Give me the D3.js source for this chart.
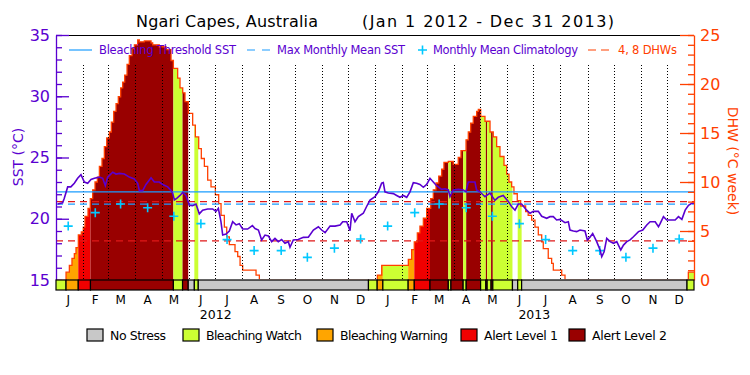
<!DOCTYPE html>
<html>
<head>
<meta charset="utf-8">
<script src="https://cdn.jsdelivr.net/npm/d3@7"></script>
<style>
  body { margin: 0; background: #fff; }
  svg { display: block; font-family: "DejaVu Sans", sans-serif; }
</style>
</head>
<body>
<div id="chart"></div>
<script>
// ---- data ----
const startDay = Date.UTC(2012, 0, 1);
const monthLetters = ["J", "F", "M", "A", "M", "J", "J", "A", "S", "O", "N", "D"];
const years = [2012, 2013];
const mmmSst = 21.2;
const thresholdSst = 22.2;
const dhwRefLevels = [4, 8];
const climatology = [19.4, 20.5, 21.2, 20.9, 20.2, 19.6, 18.3, 17.4, 17.4, 16.85, 17.6, 18.35];

// daily SST (day since Jan 1 2012)
const sstDays = [2, 7.6, 9.5, 13.4, 17, 21, 24.8, 28.6, 32.5, 36.3, 40.1, 44, 49.7, 53.5, 56.5, 59.2, 65, 68.8, 72.6, 78.3,
  84, 89.8, 93.6, 95.5, 99.3, 103.1, 108.9, 112.7, 118.4, 122.2, 128, 131.8, 133.7, 135.6, 138.3, 142.1, 145.2, 149, 152.8, 156.6,
  160.4, 164.2, 168, 173.8, 179.5, 183.3, 186, 189, 191, 194.8, 198.6, 202.4, 206.3, 210, 213.9, 219.6, 225, 228, 231.9, 235.6,
  239.5, 243.3, 247.1, 250.9, 254.7, 258.5, 262.3, 266.2, 268.1, 271.9, 277.6, 283.4, 289.1, 294.9, 300.6, 304.4, 308.3, 314, 319.7, 325.5,
  328.5, 333.1, 336.9, 338.8, 342.6, 346.4, 352.1, 355.9, 359.8, 365.5, 369.3, 373.1, 375, 376.9, 380.8, 386.5, 390.3, 394.1, 397.9, 401.8,
  405.6, 409.4, 413.2, 417, 420.9, 424.7, 428.5, 432.3, 436.1, 441.9, 445.7, 449.5, 451.4, 455.2, 460.9, 466.6, 469.7, 472.4, 480, 481.9,
  485.7, 491.5, 497.2, 502.9, 506.7, 512.4, 518.2, 522, 525.9, 529.7, 533.5, 539.2, 543.1, 546.9, 552.6, 556.5, 562.2, 566, 569.8, 573.6,
  577.5, 583.2, 587, 588.9, 592.8, 596.6, 600.4, 606.1, 608.8, 611.8, 614.9, 619.5, 623.4, 625.3, 628, 631, 634.9, 638.7, 642.5, 647.1,
  650.2, 654, 657.8, 661.6, 667.4, 672.3, 676.9, 680.7, 686.5, 690.3, 692.2, 696, 699.8, 703.7, 709.4, 713.2, 717.1, 720.9, 724.7, 728.5, 731];
const sstValues = [21.2, 21.3, 21.67, 22.6, 22.6, 22.9, 23.3, 23.6, 23.0, 22.9, 23.2, 23.3, 23.4, 23.3, 22.7, 23.4, 23.8, 23.65, 23.7, 23.65,
  23.4, 23.25, 22.9, 22.3, 22.3, 22.8, 23.35, 23.0, 23.0, 22.8, 22.6, 22.3, 22.08, 21.53, 21.67, 21.9, 22.15, 21.9, 21.1, 21.06,
  21.2, 20.4, 20.7, 20.8, 20.8, 20.6, 20.85, 19.76, 18.67, 18.75, 19.0, 19.76, 19.5, 19.6, 19.16, 19.16, 19.45, 19.2, 19.08, 18.27,
  18.67, 18.6, 18.13, 18.4, 18.13, 18.3, 18.0, 18.13, 17.67, 18.27, 18.3, 18.48, 18.5, 19.08, 19.35, 19.08, 18.86, 19.4, 19.4, 19.49,
  19.76, 19.76, 19.02, 20.45, 19.76, 20.17, 20.45, 21.0, 21.53, 21.8, 22.2, 22.9, 22.95, 22.2, 22.1, 22.05, 21.9, 21.75, 21.9, 21.75,
  22.2, 22.95, 22.9, 22.8, 22.57, 22.8, 23.3, 23.0, 22.7, 22.4, 22.45, 22.35, 21.8, 22.35, 22.4, 22.35, 22.2, 23.0, 23.0, 22.35,
  22.2, 21.8, 22.1, 21.5, 21.75, 21.9, 21.4, 21.0, 20.7, 21.2, 21.2, 20.7, 20.45, 20.6, 20.6, 20.2, 20.04, 20.17, 20.17, 19.9,
  19.95, 19.68, 19.76, 19.08, 19.0, 18.95, 19.08, 19.0, 18.27, 18.5, 18.8, 18.13, 17.45, 16.9, 17.3, 18.4, 18.13, 18.0, 18.13, 17.45,
  17.85, 18.13, 18.27, 18.53, 18.95, 19.08, 19.49, 19.76, 19.76, 19.35, 19.6, 20.17, 19.9, 19.9, 19.9, 20.17, 19.95, 20.7, 21.1, 21.26, 21.26];

// degree heating weeks, each value holds until the next day listed
const dhwDays = [0, 11.5, 15.3, 18.3, 21, 22.9, 25.6, 29, 31.3, 33.2, 36.7, 39.3, 42, 44.7, 47.4, 49.7, 52.7, 55.4, 58.1, 61.1,
  63.4, 66.1, 68.8, 71.4, 74.1, 76.4, 78.7, 81.4, 84, 87.1, 89.8, 93.6, 95.5, 101.2, 108.9, 110.8, 118.4, 126, 131.8, 134.5,
  139.4, 142.1, 145.2, 147.8, 151.6, 156.6, 159.7, 163.5, 166.5, 170, 173.8, 177.6, 182.6, 186.4, 189.1, 192.9, 195.6, 198.6, 205.1, 208.2,
  210.9, 213.9, 229.2, 233, 368.2, 373.2, 403.7, 407.5, 410.5, 414, 417, 420.9, 424.7, 429.3, 432.3, 435.4, 438.5, 441.9, 444.5, 449.5,
  455.2, 460.9, 464, 469.8, 472.4, 475.1, 478.1, 482, 483.9, 486.6, 491.5, 497.3, 501, 504.9, 508.7, 513.3, 516.4, 519, 522.1, 524.7,
  528.5, 532.4, 538.1, 541, 545, 548.8, 552.6, 556.5, 558.3, 564, 567.9, 569.8, 579.4, 583.2, 724.5, 731];
const dhwValues = [0, 0.8, 1.5, 2.2, 2.7, 3.3, 4.6, 4.9, 5.4, 6.5, 7.3, 8.3, 9.2, 10.0, 10.5, 11.6, 12.4, 13.6, 14.5, 15.1,
  16.1, 17.2, 18.0, 18.7, 19.6, 20.2, 20.9, 22.0, 22.9, 23.6, 24.0, 24.5, 24.3, 24.4, 24.2, 24.0, 23.8, 23.5, 22.4, 21.6,
  20.6, 19.6, 19.1, 18.2, 17.0, 15.8, 14.6, 13.4, 12.4, 11.6, 10.2, 9.5, 8.7, 7.8, 6.6, 5.4, 4.4, 3.6, 2.9, 2.4,
  1.5, 1.0, 0.5, 0, 0.5, 1.5, 2.1, 3.1, 3.9, 4.8, 5.5, 6.3, 7.3, 8.3, 9.2, 9.9, 10.6, 11.3, 12.0, 12.1,
  11.8, 12.5, 13.2, 14.3, 15.1, 16.0, 16.7, 17.2, 17.4, 16.7, 16.2, 15.1, 14.6, 13.6, 12.6, 11.7, 10.8, 10.0, 9.5, 8.8,
  8.1, 7.55, 6.97, 6.6, 6.1, 5.4, 4.6, 3.9, 3.2, 2.2, 1.7, 1.0, 0.5, 0, 0.8, 0.8];

// stress level periods: edges in days, level per period
const stressEdges = [0, 11.5, 25.5, 39.5, 134.5, 145, 151.5, 158.5, 163, 358, 368, 374.5, 403.5, 410.5, 428.5, 449.5,
  452.5, 466.5, 470, 486.5, 492.5, 494, 498.5, 500.5, 523, 529, 533.5, 723, 731];
const stressLevels = [1, 2, 3, 4, 1, 4, 0, 1, 0, 1, 2, 1, 2, 3, 4, 1, 4, 1, 4, 1, 4, 1, 4, 1, 0, 1, 0, 1];
const stressNames = ["No Stress", "Bleaching Watch", "Bleaching Warning", "Alert Level 1", "Alert Level 2"];
const stressColors = ["#c8c8c8", "#ccff33", "#ffa500", "#f00000", "#990000"];

// ---- layout ----
const width = 750, height = 375;
const pL = 56, pR = 694, pT = 35, pB = 280, barH = 10;
const sstColor = "#5a00d0", dhwColor = "#ff4000", blue = "#1a9cff", cyan = "#00c8ff", dashRed = "#e01818";

const dayDate = d => new Date(startDay + d * 864e5);

const svg = d3.select("#chart").append("svg")
  .attr("width", width).attr("height", height);

const x = d3.scaleUtc().domain([dayDate(0), dayDate(731)]).range([pL, pR]);
const ySst = d3.scaleLinear().domain([15, 35]).range([pB, pT]);
const yDhw = d3.scaleLinear().domain([0, 25]).range([pB, pT]);

const dhw = dhwDays.map((d, i) => ({ date: dayDate(d), v: dhwValues[i] }));
const sst = sstDays.map((d, i) => ({ date: dayDate(d), v: sstValues[i] }));
const periods = stressLevels.map((lv, i) => ({ s: stressEdges[i], e: stressEdges[i + 1], lv }));

const defs = svg.append("defs");
const dhwArea = d3.area()
  .x(d => x(d.date)).y0(pB).y1(d => yDhw(d.v))
  .curve(d3.curveStepAfter);
defs.append("clipPath").attr("id", "dhwClip")
  .append("path").attr("d", dhwArea(dhw));
defs.append("clipPath").attr("id", "plotClip")
  .append("rect").attr("x", pL).attr("y", pT).attr("width", pR - pL).attr("height", pB - pT - 0.8);

// stress fill under the DHW curve
svg.append("g").attr("clip-path", "url(#dhwClip)")
  .selectAll("rect").data(periods.filter(p => p.lv > 0)).enter()
  .append("rect")
  .attr("x", p => x(dayDate(p.s)))
  .attr("width", p => x(dayDate(p.e)) - x(dayDate(p.s)))
  .attr("y", pT).attr("height", pB - pT)
  .attr("fill", p => stressColors[p.lv]);

// DHW outline
svg.append("path")
  .attr("clip-path", "url(#plotClip)")
  .attr("d", d3.line().x(d => x(d.date)).y(d => yDhw(d.v)).curve(d3.curveStepAfter)(dhw))
  .attr("fill", "none").attr("stroke", dhwColor).attr("stroke-width", 1.3);

// dotted month boundaries
const monthStarts = d3.utcMonth.range(dayDate(1), dayDate(731));
svg.append("g").selectAll("line").data(monthStarts).enter()
  .append("line")
  .attr("x1", d => Math.round(x(d)) + 0.5).attr("x2", d => Math.round(x(d)) + 0.5)
  .attr("y1", 65).attr("y2", pB)
  .attr("stroke", "#000").attr("stroke-width", 1).attr("stroke-dasharray", "1,2");

// 4 and 8 DHW reference lines
svg.append("g").selectAll("line").data(dhwRefLevels).enter()
  .append("line")
  .attr("x1", pL).attr("x2", pR)
  .attr("y1", d => yDhw(d)).attr("y2", d => yDhw(d))
  .attr("stroke", dashRed).attr("stroke-width", 1.2).attr("stroke-dasharray", "7,5");

// threshold and MMM
svg.append("line")
  .attr("x1", pL).attr("x2", pR)
  .attr("y1", ySst(thresholdSst)).attr("y2", ySst(thresholdSst))
  .attr("stroke", blue).attr("stroke-width", 1.2);
svg.append("line")
  .attr("x1", pL).attr("x2", pR)
  .attr("y1", ySst(mmmSst)).attr("y2", ySst(mmmSst))
  .attr("stroke", blue).attr("stroke-width", 1.2).attr("stroke-dasharray", "7,5");

// monthly climatology crosses
const climPoints = [];
years.forEach(yr => climatology.forEach((v, m) => climPoints.push({ date: new Date(Date.UTC(yr, m, 15)), v })));
svg.append("g").selectAll("path").data(climPoints).enter()
  .append("path")
  .attr("transform", d => `translate(${x(d.date)},${ySst(d.v)})`)
  .attr("d", "M-4.5,0H4.5M0,-4.5V4.5")
  .attr("stroke", cyan).attr("stroke-width", 1.6);

// SST line
svg.append("path")
  .attr("d", d3.line().x(d => x(d.date)).y(d => ySst(d.v))(sst))
  .attr("fill", "none").attr("stroke", sstColor).attr("stroke-width", 1.6);

// top border
svg.append("line").attr("x1", pL).attr("x2", pR).attr("y1", pT + 0.5).attr("y2", pT + 0.5)
  .attr("stroke", "#000").attr("stroke-width", 1.2);

// left SST axis (ticks point inward)
const axL = svg.append("g").attr("class", "axL").attr("transform", `translate(${pL},0)`)
  .call(d3.axisLeft(ySst).tickValues(d3.range(15, 36, 5)).tickSizeInner(-13).tickSizeOuter(0).tickPadding(6));
svg.append("g").attr("class", "axL").attr("transform", `translate(${pL},0)`)
  .call(d3.axisLeft(ySst).tickValues(d3.range(15, 36, 1)).tickSizeInner(-6).tickSizeOuter(0).tickFormat(""))
  .call(g => g.select(".domain").remove());
// right DHW axis
const axR = svg.append("g").attr("class", "axR").attr("transform", `translate(${pR},0)`)
  .call(d3.axisRight(yDhw).tickValues(d3.range(0, 26, 5)).tickSizeInner(-14).tickSizeOuter(0).tickPadding(6));
svg.append("g").attr("class", "axR").attr("transform", `translate(${pR},0)`)
  .call(d3.axisRight(yDhw).tickValues(d3.range(0, 26, 1)).tickSizeInner(-6).tickSizeOuter(0).tickFormat(""))
  .call(g => g.select(".domain").remove());
svg.selectAll(".axL").selectAll("line, path").attr("stroke", sstColor).attr("stroke-width", 1.3);
svg.selectAll(".axR").selectAll("line, path").attr("stroke", dhwColor).attr("stroke-width", 1.3);
axL.selectAll("text").attr("fill", sstColor).attr("font-size", 16).attr("font-family", "DejaVu Sans");
axR.selectAll("text").attr("fill", dhwColor).attr("font-size", 16).attr("font-family", "DejaVu Sans");

// stress bar
svg.append("g").selectAll("rect").data(periods).enter()
  .append("rect")
  .attr("x", p => x(dayDate(p.s)))
  .attr("width", p => x(dayDate(p.e)) - x(dayDate(p.s)))
  .attr("y", pB).attr("height", barH)
  .attr("fill", p => stressColors[p.lv])
  .attr("stroke", "#000").attr("stroke-width", 1.2);

// month letters and years
const midMonths = d3.utcMonth.range(dayDate(0), dayDate(731)).map(d => new Date(d.getTime() + 14 * 864e5));
svg.append("g").selectAll("text").data(midMonths).enter()
  .append("text")
  .attr("x", d => x(d)).attr("y", 304)
  .attr("text-anchor", "middle").attr("font-size", 12)
  .text(d => monthLetters[d.getUTCMonth()]);
svg.append("g").selectAll("text").data(years).enter()
  .append("text")
  .attr("x", yr => x(new Date(Date.UTC(yr, 6, 2)))).attr("y", 319)
  .attr("text-anchor", "middle").attr("font-size", 12.5)
  .text(yr => yr);

// title
svg.append("text").attr("x", 136).attr("y", 27).attr("font-size", 16)
  .attr("textLength", 182).text("Ngari Capes, Australia");
svg.append("text").attr("x", 362).attr("y", 27).attr("font-size", 16)
  .attr("textLength", 252).text("(Jan 1 2012 - Dec 31 2013)");

// axis titles
svg.append("text").attr("transform", "translate(23,157) rotate(-90)")
  .attr("text-anchor", "middle").attr("font-size", 14).attr("fill", sstColor)
  .text("SST (°C)");
svg.append("text").attr("transform", "translate(728,161) rotate(90)")
  .attr("text-anchor", "middle").attr("font-size", 14).attr("fill", dhwColor)
  .text("DHW (°C week)");

// top legend
const lg = svg.append("g").attr("font-size", 11.5);
lg.append("line").attr("x1", 69).attr("x2", 92).attr("y1", 50).attr("y2", 50).attr("stroke", blue).attr("stroke-width", 1.2);
lg.append("text").attr("x", 99).attr("y", 54).attr("fill", sstColor).attr("textLength", 137).text("Bleaching Threshold SST");
lg.append("line").attr("x1", 247).attr("x2", 270).attr("y1", 50).attr("y2", 50).attr("stroke", blue).attr("stroke-width", 1.2).attr("stroke-dasharray", "8,7");
lg.append("text").attr("x", 277).attr("y", 54).attr("fill", sstColor).attr("textLength", 128).text("Max Monthly Mean SST");
lg.append("path").attr("d", "M418,50H427M422.5,45.5V54.5").attr("stroke", cyan).attr("stroke-width", 1.6);
lg.append("text").attr("x", 433).attr("y", 54).attr("fill", sstColor).attr("textLength", 145).text("Monthly Mean Climatology");
lg.append("line").attr("x1", 588).attr("x2", 609).attr("y1", 50).attr("y2", 50).attr("stroke", dhwColor).attr("stroke-width", 1.2).attr("stroke-dasharray", "8,5");
lg.append("text").attr("x", 618).attr("y", 54).attr("fill", dhwColor).attr("textLength", 59).text("4, 8 DHWs");

// bottom legend
const legX = [87, 183, 317, 461, 569];
const legW = [56, 96, 108, 74, 75];
const bl = svg.append("g").selectAll("g").data(stressNames).enter().append("g");
bl.append("rect").attr("x", (d, i) => legX[i]).attr("y", 329).attr("width", 16).attr("height", 12)
  .attr("fill", (d, i) => stressColors[i]).attr("stroke", "#000").attr("stroke-width", 1.2);
bl.append("text").attr("x", (d, i) => legX[i] + 23).attr("y", 340).attr("font-size", 12.5)
  .attr("textLength", (d, i) => legW[i]).text(d => d);
</script>
</body>
</html>
